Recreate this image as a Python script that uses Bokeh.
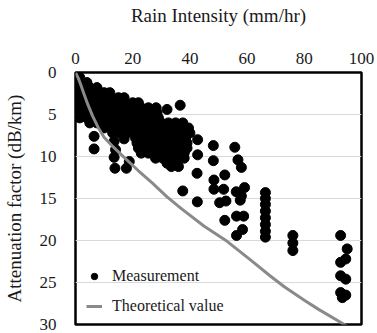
from bokeh.plotting import figure
from bokeh.models import Range1d, FixedTicker, Legend, LegendItem, ColumnDataSource
from bokeh.embed import file_html
from bokeh.resources import INLINE

FONT = "'Liberation Serif', 'Times New Roman', serif"

x_ticks = [0, 20, 40, 60, 80, 100]
y_ticks = [0, 5, 10, 15, 20, 25, 30]

# Dense measurement cloud, read row by row: (attenuation, [rain intensities])
blob_rows = [
    (0.0, [0]),
    (0.6, [0, 1.5]),
    (1.2, [0, 2, 4]),
    (1.8, [0, 2.5, 5, 7.5]),
    (2.4, [0, 2.5, 5, 7.5, 10, 12]),
    (3.0, [0, 2.5, 5, 7.5, 10, 12.5, 15, 17]),
    (3.6, [0, 2.5, 5, 7.5, 10, 12.5, 15, 17.5, 20, 22]),
    (4.2, [0.5, 3, 5.5, 8, 10.5, 13, 15.5, 18, 20.5, 23, 25.5]),
    (4.8, [1, 3.5, 6, 8.5, 11, 13.5, 16, 18.5, 21, 23.5, 26, 28.5]),
    (5.4, [1.5, 4, 6.5, 9, 11.5, 14, 16.5, 19, 21.5, 24, 26.5, 29]),
    (6.0, [5, 7.5, 10, 12.5, 15, 17.5, 20, 22.5, 25, 27.5, 30, 32.5, 35, 37.5]),
    (6.6, [10, 12.5, 15, 17.5, 20, 22.5, 25, 27.5, 30, 32.5, 35, 37.5, 39.5]),
    (7.2, [13, 15.5, 18, 20.5, 23, 25.5, 28, 30.5, 33, 35.5, 38, 40]),
    (7.8, [21, 23.5, 26, 28.5, 31, 33.5, 36, 38.5]),
    (8.4, [21.5, 24, 26.5, 29, 31.5, 34, 36.5, 39]),
    (9.0, [22, 24.5, 27, 29.5, 32, 34.5, 37, 39]),
    (9.6, [23, 25.5, 28, 30.5, 33, 35.5, 38]),
    (10.2, [28, 30.5, 33, 35.5, 38]),
    (10.8, [32, 34.5]),
    (11.2, [33.5, 36]),
]

# Scattered measurements
scatter_rain = [28.2, 32, 36.6,
                6.5, 6.5, 13.5, 14, 13.5, 13.8, 17, 17.8, 18.8,
                42.7, 42.7, 42.5, 37.5, 42.6,
                48.2, 48.2, 48.4, 52.2, 48.4, 51.8, 50.4, 52.6, 52.2,
                55.7, 56.8, 58, 59.1, 58, 57.6, 56.2, 56.3, 58.8, 58.4, 56.3,
                66.4, 66.4, 66.4, 66.4, 66.4, 66.4, 66.4, 66.4,
                76, 76, 76,
                92.7, 95, 94.5, 92.7, 92.7, 94.5, 92.7, 94.5, 93.3]
scatter_atten = [4.2, 4.4, 3.9,
                 7.6, 9.1, 8.2, 9.2, 10.1, 11.4, 7.9, 11.4, 10.6,
                 8.0, 9.8, 12.0, 14.1, 15.4,
                 8.7, 10.5, 12.8, 12.2, 13.9, 13.9, 15.5, 15.3, 17.6,
                 8.9, 10.4, 11.3, 13.7, 14.7, 15.2, 14.2, 17.1, 17.1, 18.7, 19.4,
                 14.3, 15.0, 15.7, 16.5, 17.3, 18.1, 18.9, 19.6,
                 19.4, 20.3, 21.2,
                 19.4, 21.0, 22.2, 22.6, 24.2, 24.6, 26.2, 26.5, 26.8]

theo_rain = [0, 1, 2, 3, 4.3, 6, 8, 10, 13, 17, 22, 27, 32, 37, 45, 53, 61.5, 68, 73, 80, 85, 94, 100]
theo_atten = [0, 0.7, 1.6, 2.6, 3.8, 5.2, 6.6, 7.7, 8.8, 10.1, 11.7, 13.2, 14.8, 16.2, 18.3, 20.1,
              22.4, 24.2, 25.5, 27.1, 28.2, 30.0, 31.3]

meas_rain, meas_atten = [], []
for a, rs in blob_rows:
    for r in rs:
        meas_rain.append(r)
        meas_atten.append(a)
meas_rain += scatter_rain
meas_atten += scatter_atten

p = figure(width=377, height=333, output_backend="svg", toolbar_location=None,
           x_range=Range1d(0, 100), y_range=Range1d(30, 0), x_axis_location="above",
           min_border_left=73, min_border_right=16, min_border_top=72, min_border_bottom=9)
p.background_fill_color = "white"
p.border_fill_color = "white"
p.outline_line_color = "black"
p.outline_line_width = 2.5
p.outline_line_alpha = 1

p.xgrid.grid_line_color = None
p.ygrid.grid_line_color = "#d9d9d9"
p.ygrid.grid_line_width = 1
p.ygrid.ticker = FixedTicker(ticks=y_ticks)

for ax, ticks, label in ((p.xaxis[0], x_ticks, "Rain Intensity (mm/hr)"),
                         (p.yaxis[0], y_ticks, "Attenuation factor (dB/km)")):
    ax.ticker = FixedTicker(ticks=ticks)
    ax.axis_label = label
    ax.axis_label_text_font = FONT
    ax.axis_label_text_font_size = "19px"
    ax.axis_label_text_font_style = "normal"
    ax.axis_label_text_color = "#1a1a1a"
    ax.major_label_text_font = FONT
    ax.major_label_text_font_size = "17px"
    ax.major_label_text_color = "#1a1a1a"
    ax.axis_line_color = None
    ax.major_tick_line_color = None
    ax.minor_tick_line_color = None
    ax.major_label_standoff = 13
    ax.axis_label_standoff = 12
p.xaxis[0].major_label_standoff = 3
p.xaxis[0].axis_label_standoff = 24

src = ColumnDataSource(data=dict(r=meas_rain, a=meas_atten))
sc = p.scatter("r", "a", source=src, size=10, color="black")
ln = p.line(theo_rain, theo_atten, line_color="#8a8a8a", line_width=3)

legend = Legend(items=[LegendItem(label="Measurement", renderers=[sc]),
                       LegendItem(label="Theoretical value", renderers=[ln])],
                location=(11, 8), padding=0, margin=0, spacing=10,
                glyph_width=16, glyph_height=20, label_height=20, label_standoff=10,
                label_text_font=FONT, label_text_font_size="16px", label_text_color="#1a1a1a",
                border_line_color=None, background_fill_alpha=0)
p.add_layout(legend)

open("out.html", "w").write(file_html(p, INLINE))
